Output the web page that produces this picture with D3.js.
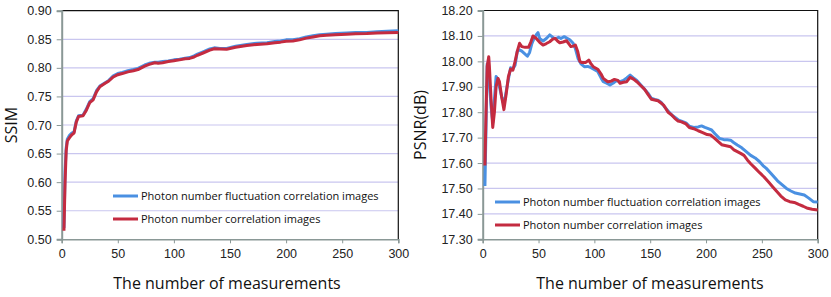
<!DOCTYPE html>
<html>
<head>
<meta charset="utf-8">
<script src="https://cdn.jsdelivr.net/npm/d3@7"></script>
<style>
  body { margin: 0; background: #fff; }
  svg { display: block; font-family: "Open Sans", sans-serif; }
  .grid line { stroke: #c9c6ef; stroke-width: 1.2; }
  .tick text { fill: #222; }
</style>
</head>
<body>
<svg id="chart" width="831" height="297"></svg>
<script>
// SSIM chart data
const ssimX = [2,3,4,5,7,9,11,13,15,19,22,25,28,31,34,38,42,46,50,54,59,64,68,74,78,83,86,90,95,100,105,110,114,118,121,126,132,136,141,147,155,165,174,183,190,195,200,206,212,218,224,230,236,244,254,262,272,281,290,300];
const ssimFluct = [0.520,0.620,0.660,0.675,0.682,0.686,0.688,0.707,0.716,0.717,0.728,0.741,0.746,0.760,0.768,0.773,0.778,0.786,0.790,0.792,0.795,0.797,0.799,0.805,0.808,0.810,0.810,0.811,0.812,0.814,0.815,0.817,0.818,0.821,0.824,0.828,0.833,0.835,0.834,0.834,0.838,0.841,0.843,0.844,0.846,0.847,0.849,0.849,0.851,0.854,0.856,0.858,0.859,0.860,0.861,0.862,0.862,0.863,0.864,0.865];
const ssimCorr = [0.515,0.600,0.655,0.672,0.678,0.683,0.686,0.705,0.715,0.716,0.726,0.739,0.744,0.758,0.767,0.772,0.777,0.784,0.788,0.790,0.793,0.795,0.797,0.803,0.806,0.809,0.808,0.809,0.811,0.8125,0.814,0.816,0.8165,0.819,0.822,0.826,0.831,0.8335,0.833,0.8325,0.836,0.839,0.841,0.842,0.844,0.845,0.8465,0.847,0.849,0.852,0.854,0.856,0.857,0.858,0.859,0.8595,0.860,0.861,0.8615,0.862];

// PSNR chart data
const psnrCorrX = [2,3,4,5.4,6,7.5,9,10.5,12,13.7,15,17,19,21,23,25,27,29,31,33,35,38,41,43,45,48,51,54,57,60,63,65,67,69,72,75,77,79,81,83,85,87,89,92,95,97,99,103,106,108,112,115,118,121,123,126,129,132,135,138,141,145,148,151,154,157,160,162,166,169,172,175,178,182,185,189,193,197,201,204,207,210,214,218,222,225,228,231,234,237,240,244,248,252,256,260,264,267,271,275,279,283,287,291,295,300];
const psnrCorr = [17.59,17.80,17.98,18.018,17.98,17.85,17.74,17.80,17.90,17.933,17.92,17.86,17.81,17.87,17.94,17.97,17.965,18.00,18.04,18.071,18.058,18.055,18.055,18.075,18.10,18.09,18.075,18.064,18.07,18.077,18.088,18.09,18.08,18.073,18.076,18.081,18.07,18.058,18.06,18.064,18.04,18.00,17.995,17.995,18.005,17.99,17.979,17.969,17.95,17.933,17.92,17.922,17.929,17.925,17.914,17.918,17.92,17.937,17.93,17.92,17.907,17.89,17.87,17.851,17.848,17.845,17.835,17.828,17.80,17.79,17.776,17.765,17.762,17.754,17.74,17.735,17.727,17.72,17.712,17.71,17.70,17.688,17.672,17.668,17.664,17.652,17.645,17.638,17.63,17.612,17.597,17.58,17.562,17.545,17.525,17.505,17.485,17.47,17.455,17.448,17.445,17.437,17.43,17.422,17.418,17.415];
const psnrFluctX = [2,3,4,5,6,7.5,9,10.5,12,13.5,15,17,19,21,23,25,27,29,31,33,35,37,40,42,44,46,48,49.5,51,54,57,60,62,64,66,68,70,73,76,78,81,83,85.5,88,91,94,97,99,103,106,108,111,114,117,120,123,126,129,132,135,138,141,145,148,151,154,157,160,163,166,169,172,175,178,182,185,189,193,196,199,202,205,208,212,216,219,222,225,228,232,236,240,244,248,251,254,258,261,264,268,272,276,280,284,288,292,296,300];
const psnrFluct = [17.51,17.75,17.99,17.98,17.92,17.82,17.76,17.85,17.94,17.93,17.90,17.86,17.83,17.88,17.93,17.975,17.97,17.985,18.04,18.045,18.04,18.032,18.02,18.035,18.07,18.09,18.105,18.113,18.09,18.08,18.09,18.104,18.097,18.09,18.09,18.095,18.09,18.097,18.09,18.085,18.071,18.05,18.01,17.99,17.979,17.98,17.975,17.97,17.96,17.935,17.92,17.914,17.907,17.915,17.925,17.92,17.925,17.935,17.946,17.935,17.925,17.91,17.89,17.875,17.855,17.85,17.847,17.838,17.82,17.805,17.79,17.78,17.77,17.765,17.758,17.745,17.74,17.742,17.746,17.74,17.735,17.73,17.715,17.697,17.692,17.692,17.69,17.68,17.671,17.66,17.645,17.63,17.62,17.605,17.59,17.579,17.56,17.545,17.53,17.515,17.50,17.49,17.482,17.478,17.474,17.462,17.448,17.447];

const xTicks = [0,50,100,150,200,250,300];
const ssimTicks = [0.50,0.55,0.60,0.65,0.70,0.75,0.80,0.85,0.90];
const psnrTicks = [17.30,17.40,17.50,17.60,17.70,17.80,17.90,18.00,18.10,18.20];
const seriesNames = ["Photon number fluctuation correlation images", "Photon number correlation images"];
const blue = "#4a90e2";
const red = "#c42b40";

const svg = d3.select("#chart");

function drawPanel(opt) {
  const {left, right, top, bottom} = opt;
  const x = d3.scaleLinear().domain([0, 300]).range([left, right]);
  const y = d3.scaleLinear().domain(opt.domain).range([bottom, top]);
  const g = svg.append("g");

  // gridlines
  g.append("g").attr("class", "grid")
    .selectAll("line")
    .data(opt.ticks.slice(1, -1))
    .enter().append("line")
    .attr("x1", left).attr("x2", right)
    .attr("y1", d => y(d)).attr("y2", d => y(d));

  // frame: top and right black
  g.append("path")
    .attr("d", `M${left},${top}H${right}V${bottom}`)
    .attr("fill", "none").attr("stroke", "#111").attr("stroke-width", 1.2);

  const yAxis = d3.axisLeft(y).tickValues(opt.ticks).tickFormat(d3.format(".2f")).tickSize(5).tickPadding(5);
  const ya = g.append("g").attr("transform", `translate(${left},0)`).call(yAxis);
  ya.select(".domain").attr("stroke", "#8a9896").attr("stroke-width", 2);
  ya.selectAll(".tick line").attr("stroke", "#8a9896");
  ya.selectAll("text").style("font-size", "12.5px");

  const xAxis = d3.axisBottom(x).tickValues(xTicks).tickSize(4).tickPadding(6);
  const xa = g.append("g").attr("transform", `translate(0,${bottom})`).call(xAxis);
  xa.select(".domain").attr("stroke", "#8a9896").attr("stroke-width", 1.5);
  xa.selectAll(".tick line").attr("stroke", "#8a9896");
  xa.selectAll("text").style("font-size", "12.5px");

  const line = d3.line().x(d => x(d[0])).y(d => y(d[1]));
  opt.series.forEach(s => {
    g.append("path")
      .datum(d3.zip(s.xs, s.ys))
      .attr("fill", "none")
      .attr("stroke", s.color)
      .attr("stroke-width", 3)
      .attr("stroke-linejoin", "round")
      .attr("d", line);
  });

  // axis titles
  g.append("text")
    .attr("x", opt.xTitleX).attr("y", 289)
    .attr("text-anchor", "middle")
    .style("font-size", "16px").attr("fill", "#111")
    .text("The number of measurements");
  g.append("text")
    .attr("transform", `translate(${opt.titleX},125) rotate(-90)`)
    .attr("text-anchor", "middle")
    .style("font-size", "16px").attr("fill", "#111")
    .text(opt.title);

  // legend
  [blue, red].forEach((c, i) => {
    const ly = opt.legendY + i * 23;
    g.append("line")
      .attr("x1", opt.legendX).attr("x2", opt.legendX + 25)
      .attr("y1", ly).attr("y2", ly)
      .attr("stroke", c).attr("stroke-width", 3);
    g.append("text")
      .attr("x", opt.legendX + 28).attr("y", ly + 4)
      .style("font-size", "11px").attr("fill", "#111")
      .text(seriesNames[i]);
  });
}

drawPanel({
  left: 61.7, right: 398.3, top: 10.7, bottom: 239.3,
  domain: [0.5, 0.9], ticks: ssimTicks,
  title: "SSIM", titleX: 17, xTitleX: 227,
  legendX: 113, legendY: 196,
  series: [
    {xs: ssimX, ys: ssimFluct, color: blue},
    {xs: ssimX, ys: ssimCorr, color: red}
  ]
});

drawPanel({
  left: 482.7, right: 817.7, top: 10.5, bottom: 239.3,
  domain: [17.3, 18.2], ticks: psnrTicks,
  title: "PSNR(dB)", titleX: 426, xTitleX: 650,
  legendX: 495, legendY: 202,
  series: [
    {xs: psnrFluctX, ys: psnrFluct, color: blue},
    {xs: psnrCorrX, ys: psnrCorr, color: red}
  ]
});
</script>
</body>
</html>
